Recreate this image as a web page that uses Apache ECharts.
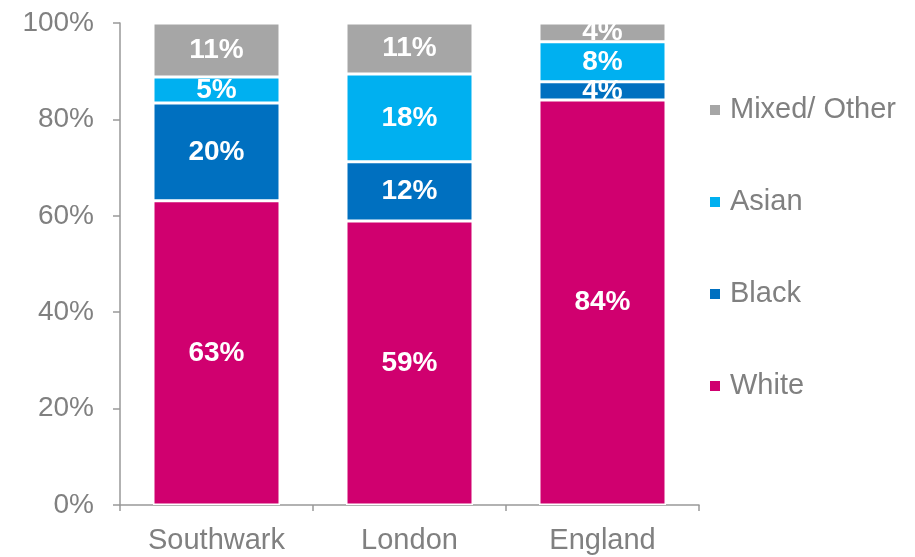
<!DOCTYPE html>
<html>
<head>
<meta charset="utf-8">
<script src="https://cdn.jsdelivr.net/npm/echarts@6/dist/echarts.min.js"></script>
<style>
  html, body { margin: 0; padding: 0; background: #fff; }
  #main { width: 915px; height: 557px; }
</style>
</head>
<body>
<div id="main"></div>
<script>
// 数据
var categories = ['Southwark', 'London', 'England'];
var white = [63.1, 58.9, 84.0];
var black = [20.3, 12.3, 3.8];
var asian = [5.4, 18.2, 8.3];
var mixed = [11.2, 10.6, 3.9];
var yTicks = [0, 20, 40, 60, 80, 100];

var grey = '#808080';
var font = 'Liberation Sans, Arial, sans-serif';

function makeSeries(name, data, color) {
  return {
    name: name,
    type: 'bar',
    stack: 'total',
    data: data,
    barWidth: 127,
    itemStyle: { color: color, borderColor: '#fff', borderWidth: 1.5 },
    label: {
      show: true,
      position: 'inside',
      color: '#fff',
      fontWeight: 'bold',
      fontSize: 28,
      fontFamily: font,
      formatter: function (p) { return Math.round(p.value) + '%'; }
    }
  };
}

var chart = echarts.init(document.getElementById('main'));
chart.setOption({
  animation: false,
  grid: { left: 120, right: 216, top: 23, bottom: 52 },
  legend: {
    orient: 'vertical',
    left: 703,
    top: 90,
    itemWidth: 12,
    itemHeight: 12,
    itemGap: 62,
    icon: 'rect',
    data: ['Mixed/ Other', 'Asian', 'Black', 'White'],
    textStyle: {
      color: grey,
      fontSize: 29,
      lineHeight: 30,
      padding: [0, 0, 0, 4],
      fontFamily: font
    }
  },
  xAxis: {
    type: 'category',
    data: categories,
    axisLine: { lineStyle: { color: '#999', width: 1.5 } },
    axisTick: { show: true, alignWithLabel: false, length: 6, lineStyle: { color: '#999', width: 1.5 } },
    axisLabel: {
      color: grey,
      fontSize: 29,
      margin: 21,
      fontFamily: font
    }
  },
  yAxis: {
    type: 'value',
    min: yTicks[0],
    max: yTicks[yTicks.length - 1],
    interval: 20,
    splitLine: { show: false },
    axisLine: { show: true, lineStyle: { color: '#999', width: 1.5 } },
    axisTick: { show: true, length: 7, lineStyle: { color: '#999', width: 1.5 } },
    axisLabel: {
      color: grey,
      fontSize: 28,
      margin: 26,
      fontFamily: font,
      formatter: '{value}%'
    }
  },
  series: [
    makeSeries('White', white, '#D0006F'),
    makeSeries('Black', black, '#0070C0'),
    makeSeries('Asian', asian, '#00B0F0'),
    makeSeries('Mixed/ Other', mixed, '#A6A6A6')
  ]
});
</script>
</body>
</html>
